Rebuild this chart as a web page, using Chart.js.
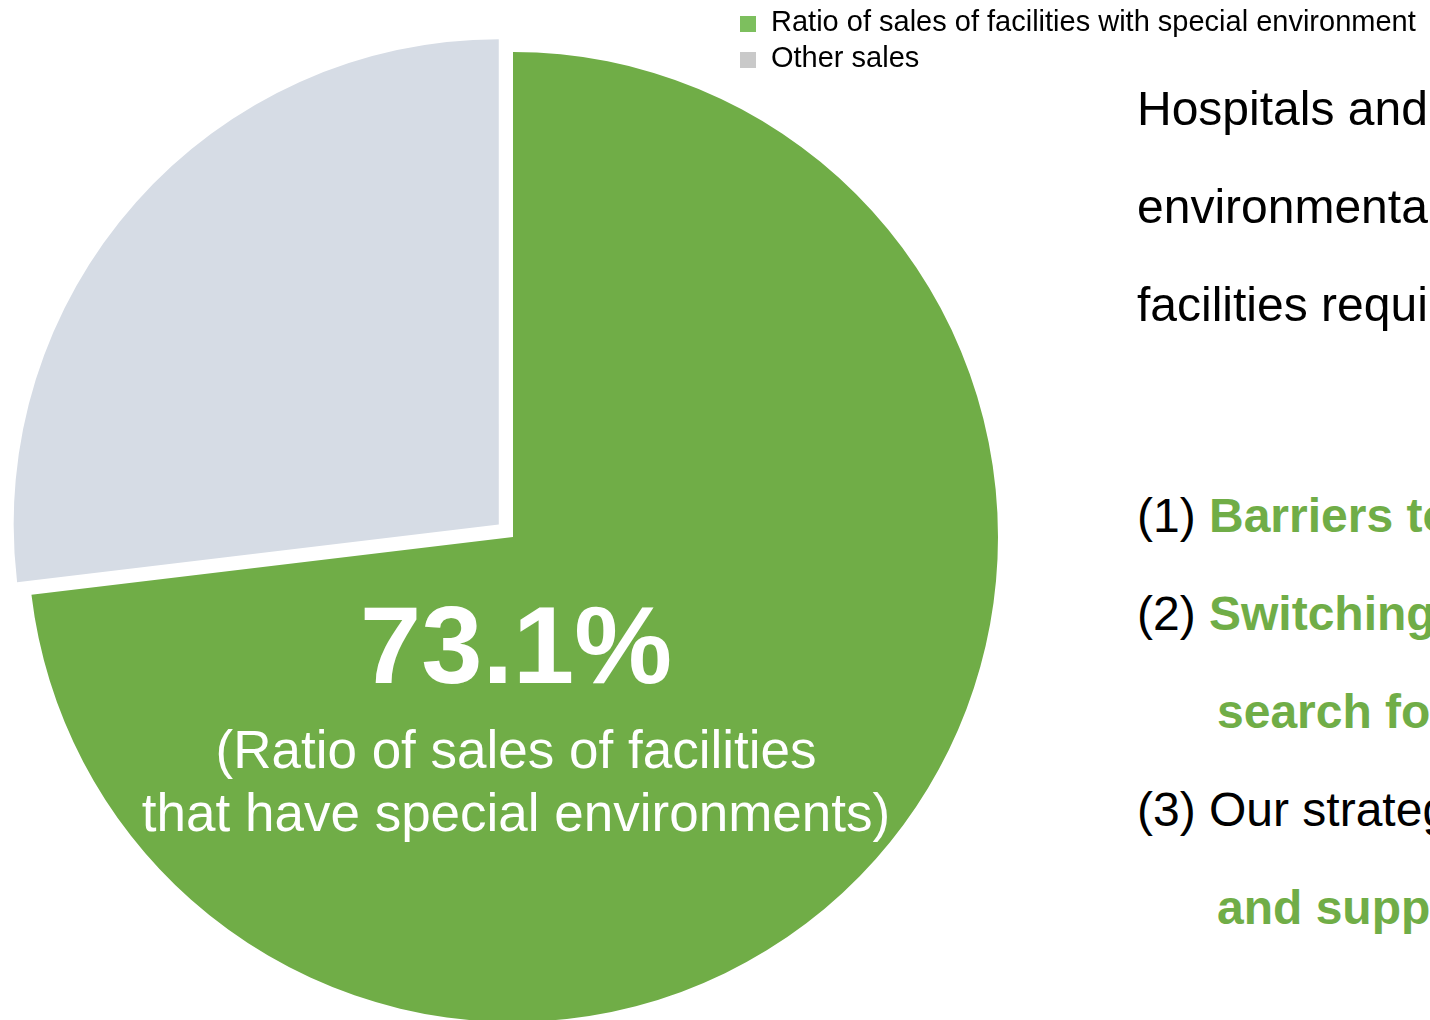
<!DOCTYPE html>
<html>
<head>
<meta charset="utf-8">
<title>Sales share</title>
<script src="https://cdn.jsdelivr.net/npm/chart.js@4.4.1/dist/chart.umd.min.js"></script>
<style>
  html, body {
    margin: 0;
    padding: 0;
    width: 1430px;
    height: 1020px;
    overflow: hidden;
    background: #fff;
    font-family: "Liberation Sans", Arial, sans-serif;
  }
  #pieBox {
    position: absolute;
    left: 0;
    top: 0;
    width: 1026px;
    height: 1074px;
  }
  #legend {
    position: absolute;
    left: 740px;
    top: 3px;
    font-size: 29px;
    color: #000;
  }
  #legend .item {
    height: 36px;
    line-height: 36px;
    white-space: nowrap;
  }
  #legend .swatch {
    display: inline-block;
    width: 16px;
    height: 16px;
    margin-right: 15px;
    vertical-align: -1px;
  }
  .notes {
    position: absolute;
    left: 1137px;
    width: 293px;
    overflow: hidden;
    white-space: nowrap;
    font-size: 48px;
    line-height: 98px;
    color: #000;
  }
  .notes b { color: #70ad47; }
  .notes .indent { padding-left: 80px; }
</style>
</head>
<body>
<div id="pieBox"><canvas id="salesPie"></canvas></div>
<div id="legend"></div>

<div class="notes" style="top:60px">
  <div>Hospitals and research institutes have strict</div>
  <div>environmental requirements, and these</div>
  <div>facilities require specialised equipment</div>
</div>
<div class="notes" style="top:467px">
  <div>(1) <b>Barriers to entry are high</b></div>
  <div>(2) <b>Switching costs are high, so customers rarely</b></div>
  <div class="indent"><b>search for other suppliers</b></div>
  <div>(3) Our strategy of proposal-based sales</div>
  <div class="indent"><b>and support</b></div>
</div>

<script>
var categories = ["Ratio of sales of facilities with special environment", "Other sales"];
var shares = [73.1, 26.9];
var captionLines = ["(Ratio of sales of facilities", "that have special environments)"];

var sliceColors = ["#70ad47", "#d6dce5"];
var legendColors = ["#7dbf5e", "#c9c9c9"];

// simple legend next to the pie
var legendEl = document.getElementById("legend");
categories.forEach(function (name, i) {
    var row = document.createElement("div");
    row.className = "item";
    var sw = document.createElement("span");
    sw.className = "swatch";
    sw.style.background = legendColors[i];
    row.appendChild(sw);
    row.appendChild(document.createTextNode(name));
    legendEl.appendChild(row);
});

// big white percentage + caption inside the green slice
var centerLabel = {
    id: "centerLabel",
    afterDatasetsDraw: function (chart) {
        var arc = chart.getDatasetMeta(0).data[0];
        var ctx = chart.ctx;
        var x = arc.x + 3;
        ctx.save();
        ctx.fillStyle = "#fff";
        ctx.textAlign = "center";
        ctx.textBaseline = "alphabetic";
        ctx.font = 'bold 110px "Liberation Sans", Arial, sans-serif';
        ctx.fillText(shares[0].toFixed(1) + "%", x, arc.y + 146);
        ctx.font = '53px "Liberation Sans", Arial, sans-serif';
        ctx.fillText(captionLines[0], x, arc.y + 231);
        ctx.fillText(captionLines[1], x, arc.y + 294);
        ctx.restore();
    }
};

var ctx = document.getElementById("salesPie").getContext("2d");
var chart = new Chart(ctx, {
    type: "pie",
    data: {
        labels: categories,
        datasets: [
            {
                data: shares,
                backgroundColor: sliceColors,
                borderWidth: 0,
                // arc offset is drawn at a quarter of this value
                offset: [0, 76],
            },
        ],
    },
    options: {
        responsive: true,
        maintainAspectRatio: false,
        animation: false,
        radius: 485,
        layout: {
            padding: 0,
        },
        plugins: {
            legend: {
                display: false,
            },
            tooltip: {
                enabled: false,
            },
        },
    },
    plugins: [centerLabel],
});
</script>
</body>
</html>
